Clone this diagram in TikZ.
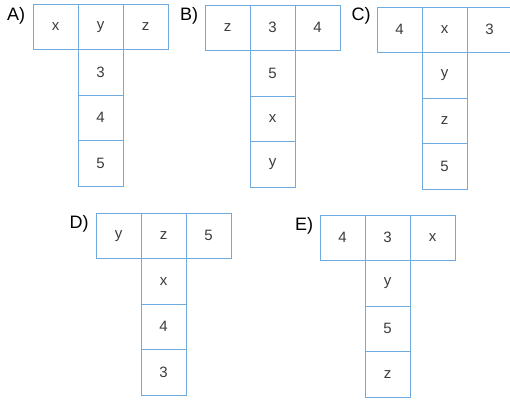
\documentclass[tikz,border=0pt]{standalone}
\usepackage{fontspec}
\setmainfont{Liberation Sans}
\definecolor{netblue}{RGB}{112,170,222}
\definecolor{txt}{RGB}{60,60,60}
\tikzset{
  cell/.style={draw=netblue, line width=0.9pt, minimum width=45pt, minimum height=45.5pt,
    inner sep=0pt, text=txt, font=\fontsize{15}{15}\selectfont},
  lab/.style={font=\fontsize{18}{18}\selectfont, text=black, inner sep=0pt}
}
% #1 prefix, #2 left x, #3 top y, #4..#9 labels (left, middle, right, then column downwards)
\newcommand\tnet[9]{%
  \node[cell] (#1a) at ({#2+22.5},{#3+22.75}) {#4};
  \node[cell] (#1b) at ({#2+67.5},{#3+22.75}) {#5};
  \node[cell] (#1c) at ({#2+112.5},{#3+22.75}) {#6};
  \node[cell] (#1d) at ({#2+67.5},{#3+68.25}) {#7};
  \node[cell] (#1e) at ({#2+67.5},{#3+113.75}) {#8};
  \node[cell] (#1f) at ({#2+67.5},{#3+159.25}) {#9};
}
\begin{document}
\begin{tikzpicture}[x=1pt,y=-1pt]
\useasboundingbox (0,0) rectangle (510,401);
\fill[white] (0,0) rectangle (510,401);
\tnet{A}{33}{4}{x}{y}{z}{3}{4}{5}
\tnet{B}{205}{5}{z}{3}{4}{5}{x}{y}
\tnet{C}{377}{7}{4}{x}{3}{y}{z}{5}
\tnet{D}{96}{213}{y}{z}{5}{x}{4}{3}
\tnet{E}{320}{215}{4}{3}{x}{y}{5}{z}
\node[lab] (la) at (16,16) {A)};
\node[lab] (lb) at (189,16) {B)};
\node[lab] (lc) at (361,16) {C)};
\node[lab] (ld) at (79,224) {D)};
\node[lab] (le) at (304,226) {E)};
\end{tikzpicture}
\end{document}
